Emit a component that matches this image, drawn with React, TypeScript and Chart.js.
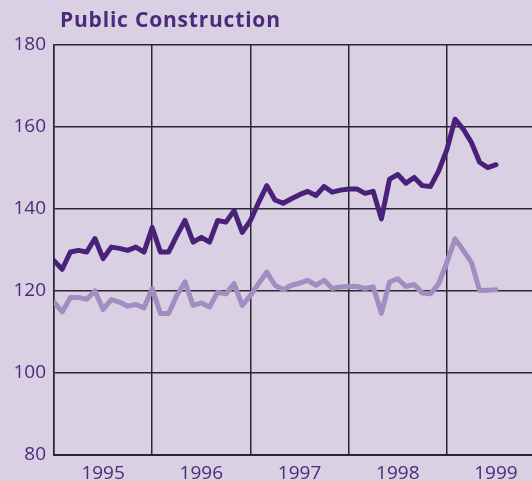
import { useEffect, useRef } from 'react';
import { Chart, registerables } from 'chart.js';

Chart.register(...registerables);

const years = ['1995', '1996', '1997', '1998', '1999'];
const yTicks = [80, 100, 120, 140, 160, 180];

// Monthly values, Jan 1995 – Jul 1999
const darkSeries = [
  127.4, 125.3, 129.5, 129.9, 129.5, 132.8, 127.9, 130.7, 130.4, 129.9, 130.7, 129.5,
  135.5, 129.5, 129.5, 133.5, 137.2, 131.9, 133.1, 131.9, 137.2, 136.8, 139.6, 134.3,
  137.2, 141.6, 145.7, 142.2, 141.4, 142.5, 143.5, 144.3, 143.3, 145.5, 144.1, 144.6,
  144.9, 144.9, 143.8, 144.3, 137.6, 147.3, 148.4, 146.3, 147.7, 145.7, 145.5, 149.3,
  154.5, 161.9, 159.5, 156.2, 151.4, 150.1, 150.8,
];
const lightSeries = [
  117.3, 114.9, 118.4, 118.4, 118.0, 120.0, 115.5, 117.9, 117.3, 116.3, 116.7, 115.9,
  120.6, 114.5, 114.5, 118.9, 122.2, 116.5, 117.1, 116.1, 119.7, 119.3, 121.8, 116.5,
  118.9, 121.8, 124.6, 121.4, 120.3, 121.4, 121.9, 122.6, 121.4, 122.6, 120.6, 121.0,
  121.1, 121.1, 120.6, 121.0, 114.6, 122.2, 123.0, 121.1, 121.6, 119.5, 119.3, 121.8,
  127.0, 132.7, 129.9, 127.0, 120.1, 120.2, 120.3,
];

const BG = '#d9d0e4';
const DARK = '#4a2178';
const LIGHT = '#a18dbf';
const TEXT = '#4b2a7c';
const GRID = '#2a2630';

export default function App() {
  const ref = useRef<HTMLCanvasElement>(null);

  useEffect(() => {
    document.body.style.margin = '0';
    const chart = new Chart(ref.current!, {
      type: 'line',
      data: {
        datasets: [
          {
            data: darkSeries.map((y, i) => ({ x: i, y })),
            borderColor: DARK,
            borderWidth: 5,
            pointRadius: 0,
            tension: 0,
            borderJoinStyle: 'round',
            borderCapStyle: 'round',
          },
          {
            data: lightSeries.map((y, i) => ({ x: i, y })),
            borderColor: LIGHT,
            borderWidth: 5,
            pointRadius: 0,
            tension: 0,
            borderJoinStyle: 'round',
            borderCapStyle: 'round',
          },
        ],
      },
      options: {
        animation: false,
        responsive: false,
        maintainAspectRatio: false,
        layout: { padding: { top: 45, left: 0, right: 0, bottom: 0 } },
        plugins: {
          legend: { display: false },
          tooltip: { enabled: false },
          title: { display: false },
        },
        scales: {
          x: {
            type: 'linear',
            min: 0,
            max: 58.4,
            afterBuildTicks: (s: any) => {
              const t = [];
              for (let v = 0; v <= 54; v += 6) t.push({ value: v });
              s.ticks = t;
            },
            afterFit: (s: any) => {
              s.height = 26;
            },
            grid: {
              color: (ctx: any) =>
                ctx.tick && ctx.tick.value % 12 === 0 ? GRID : 'rgba(0,0,0,0)',
              lineWidth: 1.5,
              drawTicks: false,
            },
            border: { display: true, color: GRID, width: 2 },
            ticks: {
              autoSkip: false,
              maxRotation: 0,
              padding: 7,
              color: TEXT,
              font: { family: 'Open Sans', size: 19 },
              callback: (v: any) => (v % 12 === 6 ? years[(v - 6) / 12] : ''),
            },
          },
          y: {
            min: 80,
            max: 180,
            afterBuildTicks: (s: any) => {
              s.ticks = yTicks.map((v) => ({ value: v }));
            },
            afterFit: (s: any) => {
              s.width = 54;
            },
            grid: { color: GRID, lineWidth: 1.5, drawTicks: false },
            border: { display: true, color: GRID, width: 1.5 },
            ticks: {
              padding: 8,
              color: TEXT,
              font: { family: 'Open Sans', size: 19 },
            },
          },
        },
      },
    });
    return () => chart.destroy();
  }, []);

  return (
    <div
      style={{
        position: 'fixed',
        left: 0,
        top: 0,
        width: 532,
        height: 481,
        background: BG,
        overflow: 'hidden',
      }}
    >
      <div
        style={{
          position: 'absolute',
          left: 60,
          top: 9,
          fontFamily: 'Open Sans',
          fontWeight: 700,
          fontSize: 21,
          letterSpacing: 0.8,
          lineHeight: 1,
          color: TEXT,
          whiteSpace: 'nowrap',
        }}
      >
        Public Construction
      </div>
      <canvas ref={ref} width={532} height={481} style={{ display: 'block' }} />
    </div>
  );
}
